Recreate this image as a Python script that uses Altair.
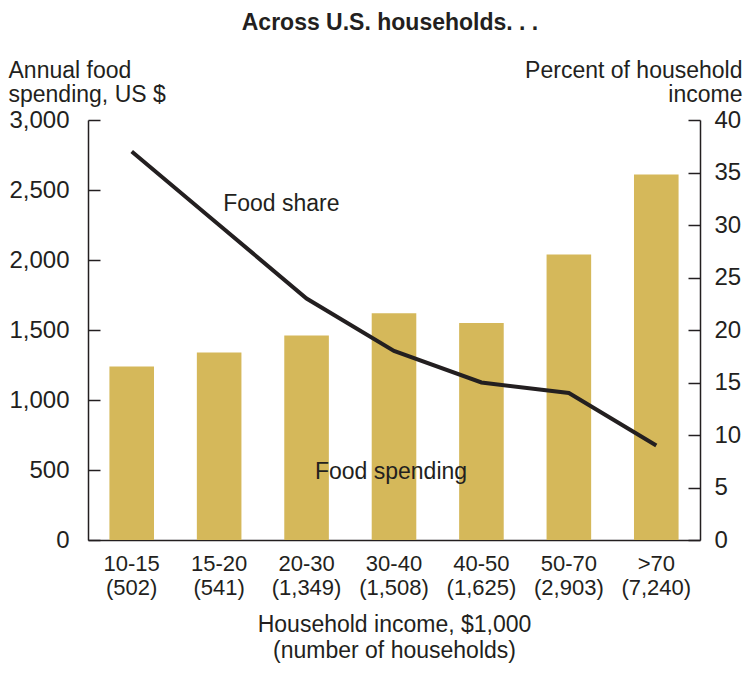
import altair as alt
import pandas as pd

# ---- data ----
income_groups = ["10-15", "15-20", "20-30", "30-40", "40-50", "50-70", ">70"]
households = ["502", "541", "1,349", "1,508", "1,625", "2,903", "7,240"]
food_spending = [1240, 1340, 1460, 1620, 1550, 2040, 2610]      # US $
food_share = [37, 30, 23, 18, 15, 14, 9]                          # percent of income

left_ticks = [0, 500, 1000, 1500, 2000, 2500, 3000]
right_ticks = [0, 5, 10, 15, 20, 25, 30, 35, 40]

# annotation anchors (category, value on its own axis)
share_label = {"text": "Food share", "cat": "15-20", "val": 31.3}
spend_label = {"text": "Food spending", "cat": "30-40", "val": 436}

labels = [f"{g}|({h})" for g, h in zip(income_groups, households)]
df = pd.DataFrame({"label": labels, "spending": food_spending, "share": food_share})

FONT = "Liberation Sans"
INK = "#231F20"
GOLD = "#D5B85A"

x_enc = alt.X(
    "label:N",
    sort=None,
    scale=alt.Scale(paddingInner=0.49, paddingOuter=0.245),
    axis=alt.Axis(
        title=["Household income, $1,000", "(number of households)"],
        labelExpr="split(datum.label, '|')",
        labelAngle=0,
        labelFont=FONT, labelFontSize=22, labelColor=INK, labelLineHeight=24,
        labelPadding=13, ticks=False, grid=False,
        domainColor=INK, domainWidth=1.5,
        titleFont=FONT, titleFontSize=23, titleFontWeight="normal", titleColor=INK,
        titleLineHeight=26, titlePadding=15,
    ),
)

bars = alt.Chart(df).mark_bar(color=GOLD).encode(
    y=alt.Y(
        "spending:Q",
        scale=alt.Scale(domain=[0, 3000], nice=False),
        axis=alt.Axis(
            orient="left",
            values=left_ticks, format=",.0f",
            title=["Annual food", "spending, US $"],
            titleAngle=0, titleAlign="left", titleBaseline="alphabetic",
            titleX=-80, titleY=-43, titleLineHeight=24,
            titleFont=FONT, titleFontSize=23, titleFontWeight="normal", titleColor=INK,
            labelFont=FONT, labelFontSize=24, labelColor=INK, labelPadding=19,
            ticks=False, domainColor=INK, domainWidth=1.5,
            grid=True, gridDash=[12, 3000], gridColor=INK, gridWidth=1.5, gridOpacity=1,
        ),
    ),
)

spend_df = pd.DataFrame({"label": [l for l, g in zip(labels, income_groups) if g == spend_label["cat"]],
                         "val": [spend_label["val"]], "text": [spend_label["text"]]})
spend_text = alt.Chart(spend_df).mark_text(
    font=FONT, fontSize=23, color=INK, align="center", baseline="alphabetic", dx=-3
).encode(
    y=alt.Y("val:Q", scale=alt.Scale(domain=[0, 3000], nice=False), axis=None),
    text="text:N",
)

line = alt.Chart(df).mark_line(color=INK, strokeWidth=4).encode(
    y=alt.Y(
        "share:Q",
        scale=alt.Scale(domain=[0, 40], nice=False),
        axis=alt.Axis(
            orient="right",
            values=right_ticks,
            title=["Percent of household", "income"],
            titleAngle=0, titleAlign="right", titleBaseline="alphabetic",
            titleX=42, titleY=-43, titleLineHeight=24,
            titleFont=FONT, titleFontSize=23, titleFontWeight="normal", titleColor=INK,
            labelFont=FONT, labelFontSize=24, labelColor=INK, labelPadding=14,
            ticks=False, domainColor=INK, domainWidth=1.5,
            grid=True, gridDash=[12, 3000], gridColor=INK, gridWidth=1.5, gridOpacity=1,
        ),
    ),
)

share_df = pd.DataFrame({"label": [l for l, g in zip(labels, income_groups) if g == share_label["cat"]],
                         "val": [share_label["val"]], "text": [share_label["text"]]})
share_text = alt.Chart(share_df).mark_text(
    font=FONT, fontSize=23, color=INK, align="left", baseline="alphabetic", dx=4
).encode(
    y=alt.Y("val:Q", scale=alt.Scale(domain=[0, 40], nice=False), axis=None),
    text="text:N",
)

chart = (
    alt.layer(bars, line, spend_text, share_text)
    .encode(x=x_enc)
    .resolve_scale(y="independent")
    .properties(
        width=612,
        height=420,
        title=alt.Title(
            "Across U.S. households. . .",
            font=FONT, fontSize=23, fontWeight="bold", color=INK,
            anchor="middle", dx=-4, offset=24,
        ),
        autosize=alt.AutoSizeParams(type="none"),
        padding={"left": 80, "top": 112, "right": 44, "bottom": 125},
    )
    .configure_view(stroke=None)
)

chart.save("out.html", embed_options={"renderer": "svg", "actions": False})
